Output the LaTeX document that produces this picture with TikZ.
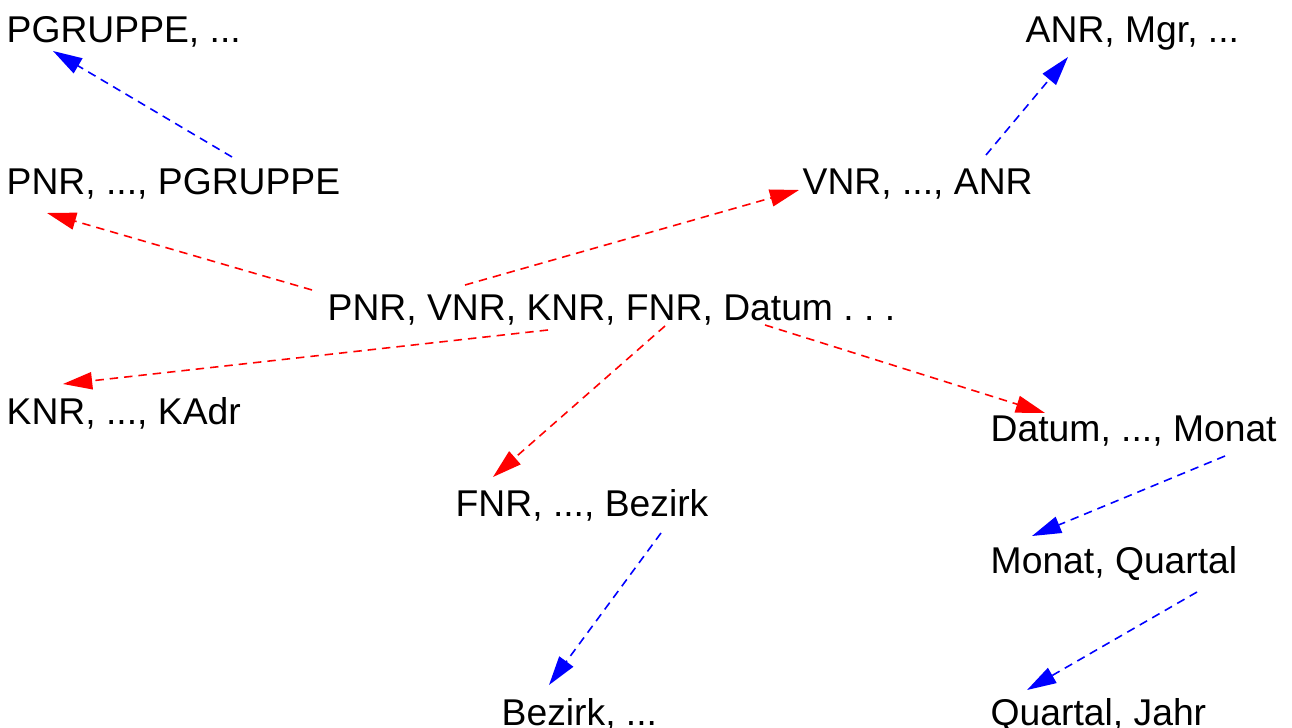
\documentclass[tikz,border=0pt]{standalone}
\usepackage{fontspec}
\setmainfont{Liberation Sans}
\usetikzlibrary{arrows.meta}

\definecolor{DimRed}{HTML}{FF0000}
\definecolor{HierBlue}{HTML}{0000FF}

\tikzset{
  attr/.style={anchor=base west, inner sep=0pt, font=\fontsize{10.6}{12.7}\selectfont},
  dimarr/.style={-{Triangle[length=8.3pt,width=4.9pt]}, dash pattern=on 2.4pt off 1.7pt, line width=0.45pt, color=DimRed},
  hierarr/.style={dimarr, color=HierBlue}
}

\begin{document}
\begin{tikzpicture}[x=0.01cm, y=-0.01cm]
 \useasboundingbox (0,0) rectangle (1292,728);

 %%%%%%%%%% Fakten %%%%%%%%%%
 \node[attr] (fakt) at (327,321) {PNR, VNR, KNR, FNR, Datum .\ .\ .};

 %%%%%%%%%% Dimensionen %%%%%%%%%%
 \node[attr] (pers) at (6,195) {PNR, ..., PGRUPPE};
 \node[attr] (pgrp) at (6,43) {PGRUPPE, ...};
 \node[attr] (vers) at (802,195) {VNR, ..., ANR};
 \node[attr] (anr) at (1025,43) {ANR, Mgr, ...};
 \node[attr] (kund) at (6,425) {KNR, ..., KAdr};
 \node[attr] (fil) at (455,516) {FNR, ..., Bezirk};
 \node[attr] (bez) at (501,725) {Bezirk, ...};
 \node[attr] (dat) at (990,442) {Datum, ..., Monat};
 \node[attr] (mon) at (990,573) {Monat, Quartal};
 \node[attr] (qrt) at (990,725) {Quartal, Jahr};

 % Fakten -> Dimensionen
 \draw[dimarr] ([shift={(-15,-31)}]fakt.base west) -- ([shift={(41,18)}]pers.base west);
 \draw[dimarr] ([shift={(138,-36)}]fakt.base west) -- ([shift={(-3,-5)}]vers.base west);
 \draw[dimarr] ([shift={(221,9)}]fakt.base west) -- ([shift={(57,-41)}]kund.base west);
 \draw[dimarr] ([shift={(338,5)}]fakt.base west) -- ([shift={(38,-39)}]fil.base west);
 \draw[dimarr] ([shift={(438,4)}]fakt.base west) -- ([shift={(55,-29)}]dat.base west);

 % Hierarchien
 \draw[hierarr] ([shift={(226,-38)}]pers.base west) -- ([shift={(47,8)}]pgrp.base west);
 \draw[hierarr] ([shift={(184,-40)}]vers.base west) -- ([shift={(43,14)}]anr.base west);
 \draw[hierarr] ([shift={(206,17)}]fil.base west) -- ([shift={(48,-40)}]bez.base west);
 \draw[hierarr] ([shift={(235,14)}]dat.base west) -- ([shift={(42,-37)}]mon.base west);
 \draw[hierarr] ([shift={(207,19)}]mon.base west) -- ([shift={(37,-35)}]qrt.base west);

\end{tikzpicture}
\end{document}
